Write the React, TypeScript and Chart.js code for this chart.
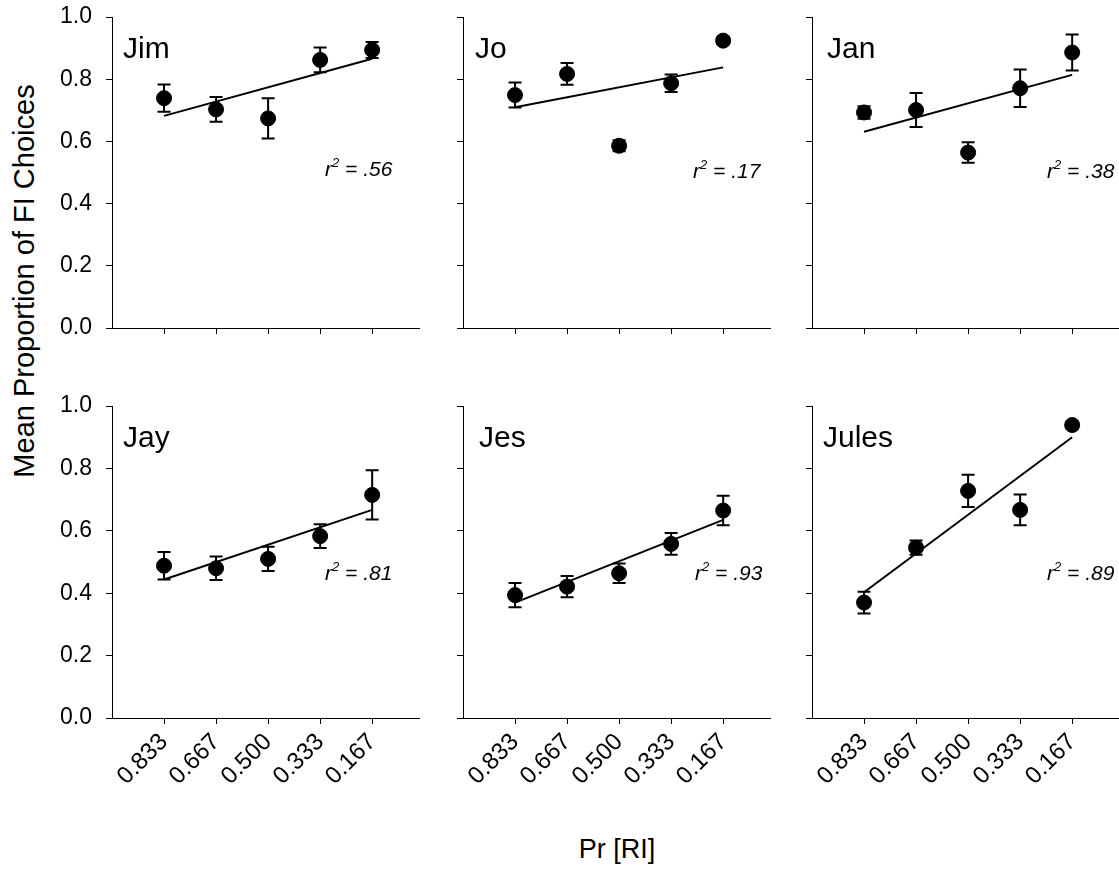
import React, { useEffect, useRef } from "react";
import { Chart, registerables } from "chart.js";

Chart.register(...registerables);

// ---------- data ----------
const xLabels = ["0.833", "0.667", "0.500", "0.333", "0.167"];
const yTicks = [0, 0.2, 0.4, 0.6, 0.8, 1.0];
const subjects = ["Jim", "Jo", "Jan", "Jay", "Jes", "Jules"];
const r2Values = [".56", ".17", ".38", ".81", ".93", ".89"];

const jimMeans = [0.739, 0.703, 0.674, 0.862, 0.894];
const jimErrors = [0.044, 0.04, 0.065, 0.04, 0.026];
const jimFit = [0.682, 0.866];

const joMeans = [0.749, 0.817, 0.586, 0.787, 0.924];
const joErrors = [0.04, 0.035, 0.018, 0.028, 0.012];
const joFit = [0.71, 0.838];

const janMeans = [0.693, 0.701, 0.564, 0.771, 0.886];
const janErrors = [0.02, 0.055, 0.033, 0.06, 0.058];
const janFit = [0.631, 0.814];

const jayMeans = [0.488, 0.48, 0.51, 0.583, 0.715];
const jayErrors = [0.044, 0.038, 0.039, 0.038, 0.079];
const jayFit = [0.444, 0.667];

const jesMeans = [0.394, 0.421, 0.464, 0.558, 0.665];
const jesErrors = [0.039, 0.034, 0.031, 0.035, 0.047];
const jesFit = [0.37, 0.635];

const julesMeans = [0.37, 0.546, 0.728, 0.667, 0.939];
const julesErrors = [0.035, 0.023, 0.052, 0.049, 0.012];
const julesFit = [0.403, 0.9];

const allMeans = [jimMeans, joMeans, janMeans, jayMeans, jesMeans, julesMeans];
const allErrors = [jimErrors, joErrors, janErrors, jayErrors, jesErrors, julesErrors];
const allFits = [jimFit, joFit, janFit, jayFit, jesFit, julesFit];

// ---------- layout (styles / positions) ----------
const FAMILY = "'Liberation Sans', Arial, Helvetica, sans-serif";
const colLeft = [112, 463, 812];
const PLOT_W = 307;
const Y_AXIS_W = 70;
const PAD_RIGHT = 10;
const PAD_TOP = 28;
const plotTop = [17, 406];
const plotH = [311, 312];
const rowXAxisH = [30, 80];

const decorLayout = [
  { nameDx: 11, r2Dx: 213, r2Dy: 159 },
  { nameDx: 12, r2Dx: 230, r2Dy: 161 },
  { nameDx: 15, r2Dx: 235, r2Dy: 161 },
  { nameDx: 11, r2Dx: 213, r2Dy: 174 },
  { nameDx: 16, r2Dx: 232, r2Dy: 174 },
  { nameDx: 11, r2Dx: 235, r2Dy: 174 },
];

function Panel({ idx }: { idx: number }) {
  const ref = useRef<HTMLCanvasElement | null>(null);
  const col = idx % 3;
  const row = Math.floor(idx / 3);
  const width = Y_AXIS_W + PLOT_W + PAD_RIGHT;
  const height = PAD_TOP + plotH[row] + rowXAxisH[row];

  useEffect(() => {
    if (!ref.current) return;
    const means = allMeans[idx];
    const errors = allErrors[idx];
    const fit = allFits[idx];
    const lay = decorLayout[idx];

    const decor = {
      id: "decor" + idx,
      beforeDatasetsDraw(chart: any) {
        const { ctx, scales } = chart;
        ctx.save();
        ctx.strokeStyle = "#000";
        ctx.lineWidth = 2;
        means.forEach((m: number, i: number) => {
          const x = scales.x.getPixelForValue(i);
          const yt = scales.y.getPixelForValue(m + errors[i]);
          const yb = scales.y.getPixelForValue(m - errors[i]);
          ctx.beginPath();
          ctx.moveTo(x, yt);
          ctx.lineTo(x, yb);
          ctx.moveTo(x - 6.5, yt);
          ctx.lineTo(x + 6.5, yt);
          ctx.moveTo(x - 6.5, yb);
          ctx.lineTo(x + 6.5, yb);
          ctx.stroke();
        });
        ctx.restore();
      },
      afterDatasetsDraw(chart: any) {
        const { ctx, chartArea } = chart;
        ctx.save();
        ctx.fillStyle = "#000";
        ctx.textBaseline = "alphabetic";
        ctx.textAlign = "left";
        ctx.font = `30px ${FAMILY}`;
        ctx.fillText(subjects[idx], chartArea.left + lay.nameDx, chartArea.top + 41);

        let x = chartArea.left + lay.r2Dx;
        const y = chartArea.top + lay.r2Dy;
        ctx.font = `italic 21px ${FAMILY}`;
        ctx.fillText("r", x, y);
        x += ctx.measureText("r").width;
        ctx.font = `italic 13px ${FAMILY}`;
        ctx.fillText("2", x, y - 9);
        x += ctx.measureText("2").width;
        ctx.font = `italic 21px ${FAMILY}`;
        ctx.fillText(" = " + r2Values[idx], x, y);
        ctx.restore();
      },
    };

    const chart = new Chart(ref.current, {
      type: "scatter",
      data: {
        datasets: [
          {
            type: "line",
            data: [
              { x: 0, y: fit[0] },
              { x: 4, y: fit[1] },
            ],
            borderColor: "#000",
            borderWidth: 2,
            pointRadius: 0,
            fill: false,
            order: 2,
          } as any,
          {
            type: "scatter",
            data: means.map((m, i) => ({ x: i, y: m })),
            backgroundColor: "#000",
            borderColor: "#000",
            pointRadius: 7.5,
            pointHoverRadius: 7.5,
            order: 1,
          } as any,
        ],
      },
      options: {
        animation: false,
        responsive: false,
        events: [],
        layout: { padding: { left: 0, top: PAD_TOP, right: PAD_RIGHT, bottom: 0 } },
        plugins: { legend: { display: false }, tooltip: { enabled: false } },
        scales: {
          x: {
            type: "linear",
            min: -1,
            max: 4.9,
            afterBuildTicks: (s: any) => {
              s.ticks = xLabels.map((_, i) => ({ value: i }));
            },
            afterFit: (s: any) => {
              s.height = rowXAxisH[row];
            },
            ticks: {
              display: row === 1,
              autoSkip: false,
              minRotation: 45,
              maxRotation: 45,
              padding: 4,
              color: "#000",
              font: { family: FAMILY, size: 24 },
              callback: (_v: any, i: number) => xLabels[i] ?? "",
            },
            grid: {
              drawOnChartArea: false,
              drawTicks: true,
              tickLength: 6,
              color: "#000",
              lineWidth: 1,
            },
            border: { display: true, color: "#000", width: 1 },
          },
          y: {
            type: "linear",
            min: 0,
            max: 1,
            afterBuildTicks: (s: any) => {
              s.ticks = yTicks.map((v) => ({ value: v }));
            },
            afterFit: (s: any) => {
              s.width = Y_AXIS_W;
            },
            ticks: {
              display: col === 0,
              padding: 14,
              color: "#000",
              font: { family: FAMILY, size: 23, lineHeight: 1.2 },
              callback: (v: any) => Number(v).toFixed(1),
            },
            grid: {
              drawOnChartArea: false,
              drawTicks: true,
              tickLength: 6,
              color: "#000",
              lineWidth: 1,
            },
            border: { display: true, color: "#000", width: 1 },
          },
        },
      } as any,
      plugins: [decor],
    });
    return () => chart.destroy();
  }, [idx]);

  return (
    <canvas
      ref={ref}
      width={width}
      height={height}
      style={{
        position: "absolute",
        left: colLeft[col] - Y_AXIS_W,
        top: plotTop[row] - PAD_TOP,
        width,
        height,
      }}
    />
  );
}

export default function App() {
  return (
    <div
      style={{
        position: "fixed",
        left: 0,
        top: 0,
        width: 1119,
        height: 890,
        background: "#fff",
        overflow: "hidden",
        fontFamily: FAMILY,
        color: "#000",
      }}
    >
      {subjects.map((_, i) => (
        <Panel key={i} idx={i} />
      ))}
      <div
        style={{
          position: "absolute",
          left: 24 - 250,
          top: 281 - 17,
          width: 500,
          height: 34,
          lineHeight: "34px",
          fontSize: 29,
          textAlign: "center",
          transform: "rotate(-90deg)",
          whiteSpace: "nowrap",
        }}
      >
        Mean Proportion of FI Choices
      </div>
      <div
        style={{
          position: "absolute",
          left: 617 - 100,
          top: 832,
          width: 200,
          height: 34,
          lineHeight: "34px",
          fontSize: 27,
          textAlign: "center",
          whiteSpace: "nowrap",
        }}
      >
        Pr [RI]
      </div>
    </div>
  );
}
